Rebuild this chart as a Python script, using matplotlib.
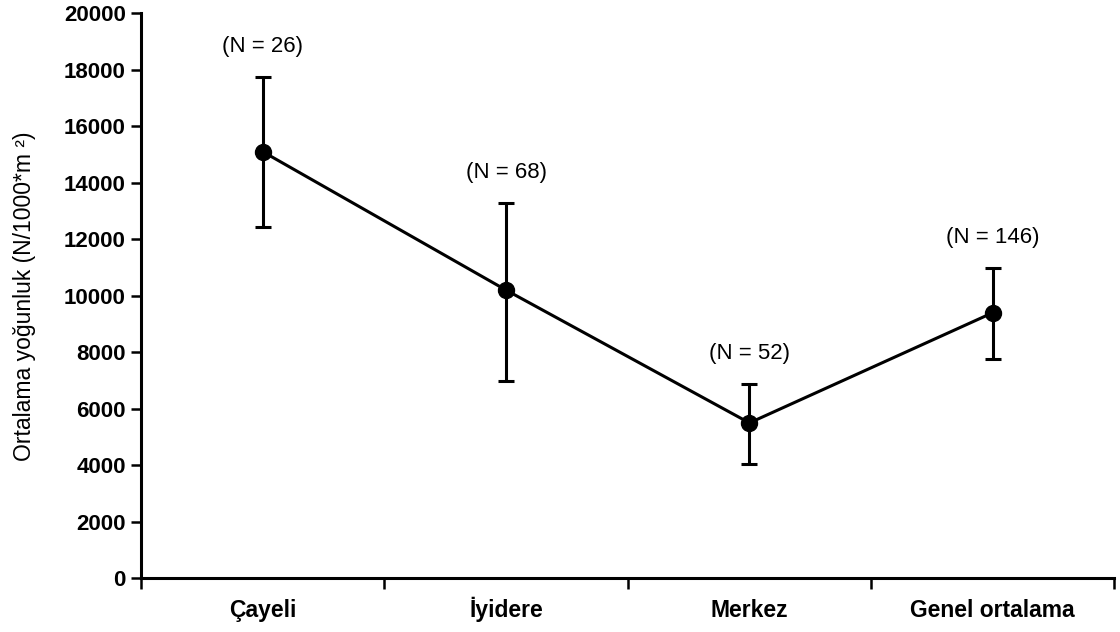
import matplotlib.pyplot as plt
from matplotlib.ticker import FixedLocator, NullFormatter

plt.rcParams["font.family"] = ["Liberation Sans", "DejaVu Sans"]

categories = ["Çayeli", "İyidere", "Merkez", "Genel ortalama"]
means = [15100, 10200, 5500, 9400]
upper = [17750, 13300, 6880, 10990]
lower = [12450, 7000, 4060, 7770]
sample_sizes = [26, 68, 52, 146]

fig = plt.figure(figsize=(11.2, 6.32), dpi=100)
ax = fig.add_axes([0.126, 0.085, 0.869, 0.894])

xs = [i + 0.5 for i in range(len(categories))]
err_lo = [m - lo for m, lo in zip(means, lower)]
err_hi = [hi - m for m, hi in zip(means, upper)]

ax.errorbar(
    xs, means, yerr=[err_lo, err_hi],
    color="black", linewidth=2.2, elinewidth=2.2, capsize=6, capthick=2.2,
    marker="o", markersize=11.5,
)

for x, hi, n in zip(xs, upper, sample_sizes):
    ax.annotate(
        f"(N = {n})", (x, hi), xytext=(0, 14), textcoords="offset points",
        ha="center", va="bottom", fontsize=16,
    )

ax.set_xlim(0, len(categories))
ax.set_ylim(0, 20000)
ax.set_yticks(range(0, 20001, 2000))
ax.set_yticklabels([str(v) for v in range(0, 20001, 2000)], fontsize=16, fontweight="bold")

# boundaries get the tick marks, category centres get the labels
ax.xaxis.set_major_locator(FixedLocator(range(len(categories) + 1)))
ax.xaxis.set_major_formatter(NullFormatter())
ax.xaxis.set_minor_locator(FixedLocator(xs))
ax.set_xticklabels(categories, minor=True, fontsize=16.5, fontweight="bold", va="baseline")
ax.tick_params(axis="x", which="major", direction="out", length=8, width=1.8)
ax.tick_params(axis="x", which="minor", length=0, pad=28)
ax.tick_params(axis="y", direction="out", length=7, width=1.8, pad=4)

ax.set_ylabel("Ortalama yoğunluk (N/1000*m ²)", fontsize=16.5, labelpad=20)

for side in ("top", "right"):
    ax.spines[side].set_visible(False)
for side in ("left", "bottom"):
    ax.spines[side].set_linewidth(2.2)

fig.savefig("out.png", dpi=100)
